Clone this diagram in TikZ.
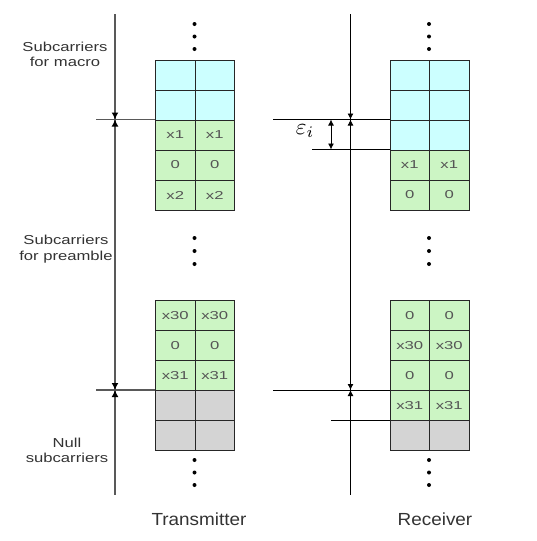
\documentclass[tikz,border=0pt]{standalone}
\usepackage{fontspec}
\setmainfont{Liberation Sans}
\usetikzlibrary{arrows.meta}
\definecolor{cyanc}{HTML}{CCFFFF}
\definecolor{greenc}{HTML}{CCF5C4}
\definecolor{grayc}{HTML}{D4D4D4}
\definecolor{txt}{HTML}{333333}
\definecolor{celltxt}{HTML}{555555}
\newcommand{\cx}[1]{\scalebox{1.45}[1]{#1}}
\newcommand{\lx}[1]{\scalebox{1.28}[1]{\begin{tabular}{@{}c@{}}#1\end{tabular}}}
\newcommand{\tx}[1]{\scalebox{1.08}[1]{#1}}
\tikzset{
  cell/.style={draw=black!85, line width=1pt, minimum width=39.5pt, minimum height=30pt, inner sep=0pt, anchor=north west, font=\fontsize{11.5}{12}\selectfont, text=celltxt},
  cy/.style={cell, fill=cyanc},
  gr/.style={cell, fill=greenc},
  gy/.style={cell, fill=grayc},
  lab/.style={font=\fontsize{13}{15.5}\selectfont, text=txt, inner sep=0pt},
  title/.style={font=\fontsize{17.5}{18}\selectfont, text=txt, inner sep=0pt},
  dotn/.style={circle, fill=black, inner sep=0pt, minimum size=4pt},
  taxis/.style={draw=black!65, line width=1.4pt},
  raxis/.style={draw=black, line width=0.9pt},
  tip/.style={-{Latex[length=6pt,width=6pt]}},
  ttip/.style={-{Latex[length=7pt,width=7pt,fill=black,color=black]}},
}
\begin{document}
\begin{tikzpicture}[x=1pt,y=-1pt]
\useasboundingbox (0,0) rectangle (536,541);
% Transmitter top block
\node[cy] (t11) at (155,59.5) {}; \node[cy] (t12) at (194.5,59.5) {};
\node[cy] (t21) at (155,89.5) {}; \node[cy] (t22) at (194.5,89.5) {};
\node[gr] (t31) at (155,119.5) {\cx{x1}}; \node[gr] (t32) at (194.5,119.5) {\cx{x1}};
\node[gr] (t41) at (155,149.5) {\cx{0}}; \node[gr] (t42) at (194.5,149.5) {\cx{0}};
\node[gr] (t51) at (155,179.5) {\cx{x2}}; \node[gr] (t52) at (194.5,179.5) {\cx{x2}};
% Transmitter bottom block
\node[gr] (b11) at (155,300) {\cx{x30}}; \node[gr] (b12) at (194.5,300) {\cx{x30}};
\node[gr] (b21) at (155,330) {\cx{0}}; \node[gr] (b22) at (194.5,330) {\cx{0}};
\node[gr] (b31) at (155,360) {\cx{x31}}; \node[gr] (b32) at (194.5,360) {\cx{x31}};
\node[gy] (b41) at (155,390) {}; \node[gy] (b42) at (194.5,390) {};
\node[gy] (b51) at (155,420) {}; \node[gy] (b52) at (194.5,420) {};
% Receiver top block
\node[cy] (r11) at (389.5,59.5) {}; \node[cy] (r12) at (429,59.5) {};
\node[cy] (r21) at (389.5,89.5) {}; \node[cy] (r22) at (429,89.5) {};
\node[cy] (r31) at (389.5,119.5) {}; \node[cy] (r32) at (429,119.5) {};
\node[gr] (r41) at (389.5,149.5) {\cx{x1}}; \node[gr] (r42) at (429,149.5) {\cx{x1}};
\node[gr] (r51) at (389.5,179.5) {\cx{0}}; \node[gr] (r52) at (429,179.5) {\cx{0}};
% Receiver bottom block
\node[gr] (s11) at (389.5,300) {\cx{0}}; \node[gr] (s12) at (429,300) {\cx{0}};
\node[gr] (s21) at (389.5,330) {\cx{x30}}; \node[gr] (s22) at (429,330) {\cx{x30}};
\node[gr] (s31) at (389.5,360) {\cx{0}}; \node[gr] (s32) at (429,360) {\cx{0}};
\node[gr] (s41) at (389.5,390) {\cx{x31}}; \node[gr] (s42) at (429,390) {\cx{x31}};
\node[gy] (s51) at (389.5,420) {}; \node[gy] (s52) at (429,420) {};
% dots
\foreach \y [count=\i] in {24,36.5,49,238,251,264,460,472.5,485}{
  \node[dotn] (td\i) at (194.5,\y) {};
  \node[dotn] (rd\i) at (429,\y) {};
}
% axes
\coordinate (ttop) at (115,14); \coordinate (tbot) at (115,495);
\coordinate (rtop) at (350.5,14); \coordinate (rbot) at (350.5,495);
\draw[taxis] (ttop) -- (tbot);
\draw[raxis] (rtop) -- (rbot);
% transmitter boundary lines
\coordinate (tl1) at (96,119.5); \coordinate (tl2) at (96,390);
\draw[taxis, line width=1.1pt] (tl1) -- (t31.north west);
\draw[taxis, line width=1.1pt] (tl2) -- (b41.north west);
\coordinate (tm1) at (115,119.5); \coordinate (tm2) at (115,390);
\draw[taxis, ttip] (115,104) -- (tm1);
\draw[taxis, ttip] (115,135) -- (tm1);
\draw[taxis, ttip] (115,375) -- (tm2);
\draw[taxis, ttip] (115,405) -- (tm2);
% receiver boundary lines
\coordinate (rl1) at (273,119.5); \coordinate (rl2) at (312,149.5);
\coordinate (rl3) at (273,390); \coordinate (rl4) at (331,420);
\draw[raxis] (rl1) -- (r31.north west);
\draw[raxis] (rl2) -- (r41.north west);
\draw[raxis] (rl3) -- (s41.north west);
\draw[raxis] (rl4) -- (s51.north west);
\coordinate (rm1) at (350.5,119.5); \coordinate (rm2) at (350.5,390);
\draw[raxis, tip] (350.5,104) -- (rm1);
\draw[raxis, tip] (350.5,135) -- (rm1);
\draw[raxis, tip] (350.5,375) -- (rm2);
\draw[raxis, tip] (350.5,405) -- (rm2);
% epsilon
\coordinate (e1) at (331,119.5); \coordinate (e2) at (331,149.5);
\draw[raxis, {Latex[length=6pt,width=6pt]}-{Latex[length=6pt,width=6pt]}] (e1) -- (e2);
\node[inner sep=0pt] (eps) at (305,131) {\scalebox{2.3}{$\varepsilon_{i}$}};
% labels
\node[lab] (l1) at (65,56) {\lx{Subcarriers\\for macro}};
\node[lab] (l2) at (66,249.5) {\lx{Subcarriers\\for preamble}};
\node[lab] (l3) at (67,452) {\lx{Null\\subcarriers}};
\node[title] (tt) at (199,519) {\tx{Transmitter}};
\node[title] (rt) at (435,519) {\tx{Receiver}};
\end{tikzpicture}
\end{document}
